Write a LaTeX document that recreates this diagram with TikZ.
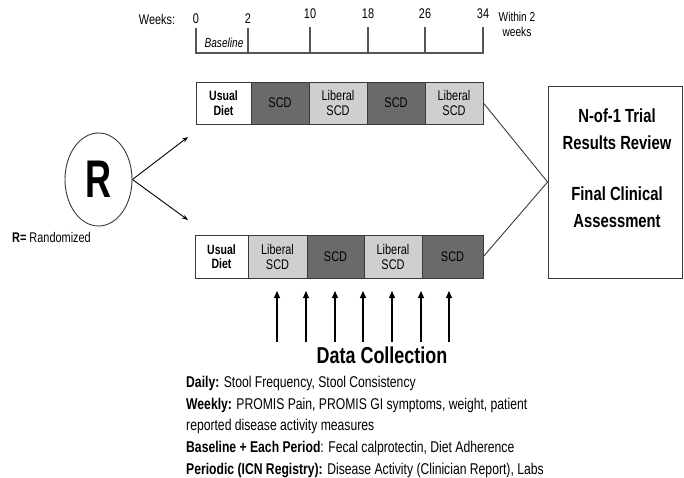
\documentclass[tikz,border=0pt]{standalone}
\usepackage{fontspec}
\setmainfont{Liberation Sans}[FakeStretch=0.78]
\newfontfamily\narrowfont{Liberation Sans}[FakeStretch=0.68]
\usetikzlibrary{arrows.meta,shapes.geometric}
\definecolor{darkcell}{HTML}{6A6A6A}
\definecolor{lightcell}{HTML}{CFCFCF}
\definecolor{edgegray}{HTML}{3A3A3A}
\definecolor{tl}{HTML}{555555}
\begin{document}
\begin{tikzpicture}[x=1pt,y=-1pt,
  cell/.style={draw=edgegray, line width=0.9pt, inner sep=0pt, align=center, font=\fontsize{14}{15}\selectfont},
  scdcell/.style={cell, fill=darkcell},
  libcell/.style={cell, fill=lightcell},
  usualcell/.style={cell, fill=white, font=\bfseries\fontsize{13.5}{14.5}\selectfont},
  tick/.style={draw=tl, line width=1.1pt},
  ticklabel/.style={font=\fontsize{14}{15}\selectfont, inner sep=0pt},
  link/.style={draw=edgegray, line width=0.9pt},
  uparrow/.style={draw=black, line width=1.1pt, -{Triangle[length=7pt,width=6pt]}},
  rarrow/.style={draw=black, line width=0.9pt, -{Stealth[length=6pt,width=4.5pt]}},
  dtext/.style={anchor=base west, inner sep=0pt, font=\fontsize{15.6}{18}\selectfont}
]
\useasboundingbox (0,0) rectangle (684,477);

% timeline
\node[ticklabel] (weeks) at (157,19) {Weeks:};
\node[ticklabel] (t0) at (196,19) {0};
\node[ticklabel] (t2) at (248,19) {2};
\node[ticklabel] (t10) at (310,14) {10};
\node[ticklabel] (t18) at (368,14) {18};
\node[ticklabel] (t26) at (425,14) {26};
\node[ticklabel] (t34) at (483,14) {34};
\node[ticklabel, align=center, font=\fontsize{13}{15}\selectfont] (within) at (517,24) {Within 2\\weeks};
\coordinate (a0) at (196,28); \coordinate (b0) at (196,53);
\coordinate (a2) at (248,28); \coordinate (b2) at (248,53);
\coordinate (a10) at (310,27); \coordinate (b10) at (310,53);
\coordinate (a18) at (368,27); \coordinate (b18) at (368,53);
\coordinate (a26) at (425,27); \coordinate (b26) at (425,53);
\coordinate (a34) at (483,27); \coordinate (b34) at (483,53);
\draw[tick] (a0) -- (b0) -- (b34) -- (a34);
\draw[tick] (a2) -- (b2);
\draw[tick] (a10) -- (b10);
\draw[tick] (a18) -- (b18);
\draw[tick] (a26) -- (b26);
\node[ticklabel, font=\itshape\fontsize{13}{15}\selectfont] (base) at (224,43) {Baseline};

% top sequence
\node[usualcell, minimum width=55pt, minimum height=42pt] (u1) at (223.5,103) {Usual\\Diet};
\node[scdcell, minimum width=58pt, minimum height=42pt] (s1) at (280,103) {SCD};
\node[libcell, minimum width=58pt, minimum height=42pt] (l1) at (338,103) {Liberal\\SCD};
\node[scdcell, minimum width=58pt, minimum height=42pt] (s2) at (396,103) {SCD};
\node[libcell, minimum width=58pt, minimum height=42pt] (l2) at (454,103) {Liberal\\SCD};

% bottom sequence
\node[usualcell, minimum width=53pt, minimum height=43pt] (u2) at (221.5,256.5) {Usual\\Diet};
\node[libcell, minimum width=59pt, minimum height=43pt] (l3) at (277.5,256.5) {Liberal\\SCD};
\node[scdcell, minimum width=57pt, minimum height=43pt] (s3) at (335.5,256.5) {SCD};
\node[libcell, minimum width=58pt, minimum height=43pt] (l4) at (393,256.5) {Liberal\\SCD};
\node[scdcell, minimum width=61pt, minimum height=43pt] (s4) at (452.5,256.5) {SCD};

% randomization
\node[draw=edgegray, line width=0.9pt, ellipse, minimum width=67pt, minimum height=93pt, inner sep=0pt, font=\narrowfont\bfseries\fontsize{53}{53}\selectfont] (R) at (98.5,179.5) {R};
\node[anchor=west, inner sep=0pt, font=\fontsize{14}{16}\selectfont] (rlegend) at (12,237) {\textbf{R=} Randomized};
\coordinate (rt) at (188,137);
\coordinate (rb) at (188,220);
\draw[rarrow] (R.east) -- (rt);
\draw[rarrow] (R.east) -- (rb);

% review box
\node[draw=edgegray, line width=0.9pt, minimum width=134pt, minimum height=192pt, inner sep=0pt] (review) at (615,182) {};
\node[inner sep=0pt, align=center, font=\bfseries\fontsize{19}{27}\selectfont] (reviewtext) at (617,168) {N-of-1 Trial\\Results Review\\[24pt]Final Clinical\\Assessment};
\draw[link] (l2.east) -- (review.west);
\draw[link] (s4.east) -- (review.west);

% data collection arrows
\foreach \i/\x in {1/277,2/306,3/335,4/363,5/392,6/421,7/449}{
  \coordinate (dl\i) at (\x,342);
  \coordinate (dh\i) at (\x,291);
  \draw[uparrow] (dl\i) -- (dh\i);
}
\node[inner sep=0pt, font=\bfseries\fontsize{23}{25}\selectfont] (dc) at (382,355) {Data Collection};

\node[dtext] (d1) at (186,387) {\textbf{Daily:} Stool Frequency, Stool Consistency};
\node[dtext] (d2) at (186,409) {\textbf{Weekly:} PROMIS Pain, PROMIS GI symptoms, weight, patient};
\node[dtext] (d3) at (186,430.5) {reported disease activity measures};
\node[dtext] (d4) at (186,452.5) {\textbf{Baseline + Each Period}: Fecal calprotectin, Diet Adherence};
\node[dtext] (d5) at (186,474) {\textbf{Periodic (ICN Registry):} Disease Activity (Clinician Report), Labs};
\end{tikzpicture}
\end{document}
